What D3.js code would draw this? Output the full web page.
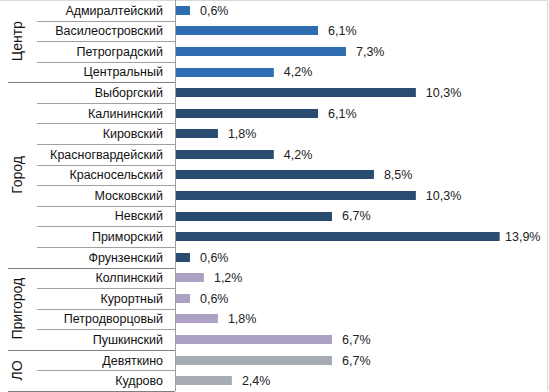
<!DOCTYPE html>
<html>
<head>
	<meta charset="utf-8">
	<title>Районы</title>
	<script src="https://cdnjs.cloudflare.com/ajax/libs/d3/7.8.5/d3.min.js"></script>
	<style>
		body { margin: 0; background: #fff; }
		text { font-family: "Liberation Sans", Arial, sans-serif; }
	</style>
</head>
<body>
<div id="chart"></div>
<script>
	// data
	var districts = ["Адмиралтейский", "Василеостровский", "Петроградский", "Центральный",
		"Выборгский", "Калининский", "Кировский", "Красногвардейский", "Красносельский",
		"Московский", "Невский", "Приморский", "Фрунзенский",
		"Колпинский", "Курортный", "Петродворцовый", "Пушкинский",
		"Девяткино", "Кудрово"];
	var values = [0.6, 6.1, 7.3, 4.2, 10.3, 6.1, 1.8, 4.2, 8.5, 10.3, 6.7, 13.9, 0.6,
		1.2, 0.6, 1.8, 6.7, 6.7, 2.4];
	var groupNames = ["Центр", "Город", "Пригород", "ЛО"];
	var groupSizes = [4, 9, 4, 2];
	var groupColors = ["#2e6db2", "#294c70", "#ada2c3", "#a6acb2"];

	var width = 549,
		height = 392;

	var svg = d3.select("#chart").append("svg")
		.attr("width", width)
		.attr("height", height);

	// which group each row belongs to
	var groupOf = [];
	groupSizes.forEach(function(n, g) {
		for (var i = 0; i < n; i++) groupOf.push(g);
	});

	var x = d3.scaleLinear().domain([0, 14]).range([176, 502]);
	var y = d3.scaleBand().domain(districts).range([0, 391]);
	var barH = 9;

	// outer frame
	svg.append("path")
		.attr("d", "M0,0.5H547.5V390.5")
		.attr("fill", "none")
		.attr("stroke", "#d9d9d9");

	// row separators in the category area
	var start = 0;
	groupSizes.forEach(function(n, g) {
		for (var i = 1; i <= n; i++) {
			var yy = Math.round(y(districts[start + i - 1]) + y.bandwidth()) + 0.5;
			var isGroupEnd = (i === n);
			svg.append("line")
				.attr("x1", isGroupEnd ? 8 : 37)
				.attr("x2", 175)
				.attr("y1", yy).attr("y2", yy)
				.attr("stroke", isGroupEnd ? "#808080" : "#a0a0a0")
				.attr("stroke-width", 1);
		}
		// group label
		var y0 = y(districts[start]);
		var y1 = y(districts[start + n - 1]) + y.bandwidth();
		svg.append("text")
			.attr("transform", "translate(22," + ((y0 + y1) / 2) + ") rotate(-90)")
			.attr("text-anchor", "middle")
			.attr("font-size", "14px")
			.attr("fill", "#111")
			.text(groupNames[g]);
		start += n;
	});

	// axis line
	svg.append("line")
		.attr("x1", 175.5).attr("x2", 175.5)
		.attr("y1", 0).attr("y2", 391)
		.attr("stroke", "#a0a0a0");

	// category labels
	svg.selectAll(".cat")
		.data(districts)
		.enter().append("text")
		.attr("class", "cat")
		.attr("x", 163)
		.attr("y", function(d) { return y(d) + y.bandwidth() / 2; })
		.attr("dy", "0.35em")
		.attr("text-anchor", "end")
		.attr("font-size", "12.5px")
		.attr("fill", "#111")
		.text(function(d) { return d; });

	// bars
	svg.selectAll(".bar")
		.data(values)
		.enter().append("rect")
		.attr("class", "bar")
		.attr("x", x(0))
		.attr("y", function(d, i) { return Math.round(y(districts[i]) + y.bandwidth() / 2 - barH / 2); })
		.attr("width", function(d) { return x(d) - x(0); })
		.attr("height", barH)
		.attr("fill", function(d, i) { return groupColors[groupOf[i]]; });

	// value labels
	svg.selectAll(".val")
		.data(values)
		.enter().append("text")
		.attr("class", "val")
		.attr("x", function(d) { return Math.min(x(d) + 10, 505); })
		.attr("y", function(d, i) { return y(districts[i]) + y.bandwidth() / 2; })
		.attr("dy", "0.35em")
		.attr("font-size", "12.5px")
		.attr("fill", "#222")
		.text(function(d) { return d.toFixed(1).replace(".", ",") + "%"; });
</script>
</body>
</html>
